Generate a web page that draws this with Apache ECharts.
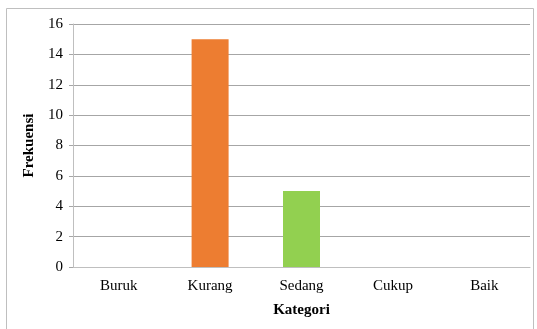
<!DOCTYPE html>
<html>
<head>
<meta charset="utf-8">
<script src="https://cdn.jsdelivr.net/npm/echarts@6/dist/echarts.min.js"></script>
<style>
  html, body { margin: 0; padding: 0; background: #fff; }
  #chart { width: 537px; height: 329px; }
</style>
</head>
<body>
<div id="chart"></div>
<script>
// data
const categories = ['Buruk', 'Kurang', 'Sedang', 'Cukup', 'Baik']
const frekuensi = [0, 15, 5, 0, 0]
const barColors = ['#4472C4', '#ED7D31', '#92D050', '#FFC000', '#5B9BD5']

const font = '"Liberation Serif", "Times New Roman", serif'

const chart = echarts.init(document.getElementById('chart'))

chart.setOption({
  animation: false,
  textStyle: { fontFamily: font },
  graphic: [{
    type: 'rect',
    shape: { x: 6.5, y: 8.5, width: 527, height: 330 },
    style: { fill: 'none', stroke: '#bfbfbf', lineWidth: 1 },
    silent: true
  }],
  grid: { left: 73, right: 7, top: 24, bottom: 62 },
  xAxis: {
    type: 'category',
    data: categories,
    name: 'Kategori',
    nameLocation: 'middle',
    nameGap: 36,
    nameTextStyle: { fontFamily: font, fontSize: 15, fontWeight: 'bold', color: '#000' },
    axisLine: { lineStyle: { color: '#bfbfbf' } },
    axisTick: { show: false },
    axisLabel: { fontFamily: font, fontSize: 15, color: '#000', margin: 12 }
  },
  yAxis: {
    type: 'value',
    min: 0,
    max: 16,
    interval: 2,
    name: 'Frekuensi',
    nameLocation: 'middle',
    nameGap: 33,
    nameRotate: 90,
    nameTextStyle: { fontFamily: font, fontSize: 15, fontWeight: 'bold', color: '#000' },
    axisLine: { show: true, lineStyle: { color: '#bfbfbf' } },
    axisTick: { show: true, length: 4, lineStyle: { color: '#a6a6a6' } },
    splitLine: { lineStyle: { color: '#a6a6a6' } },
    axisLabel: { fontFamily: font, fontSize: 15, color: '#000', margin: 10 }
  },
  series: [{
    type: 'bar',
    data: frekuensi.map((v, i) => ({ value: v, itemStyle: { color: barColors[i] } })),
    barWidth: 37
  }]
})
</script>
</body>
</html>
